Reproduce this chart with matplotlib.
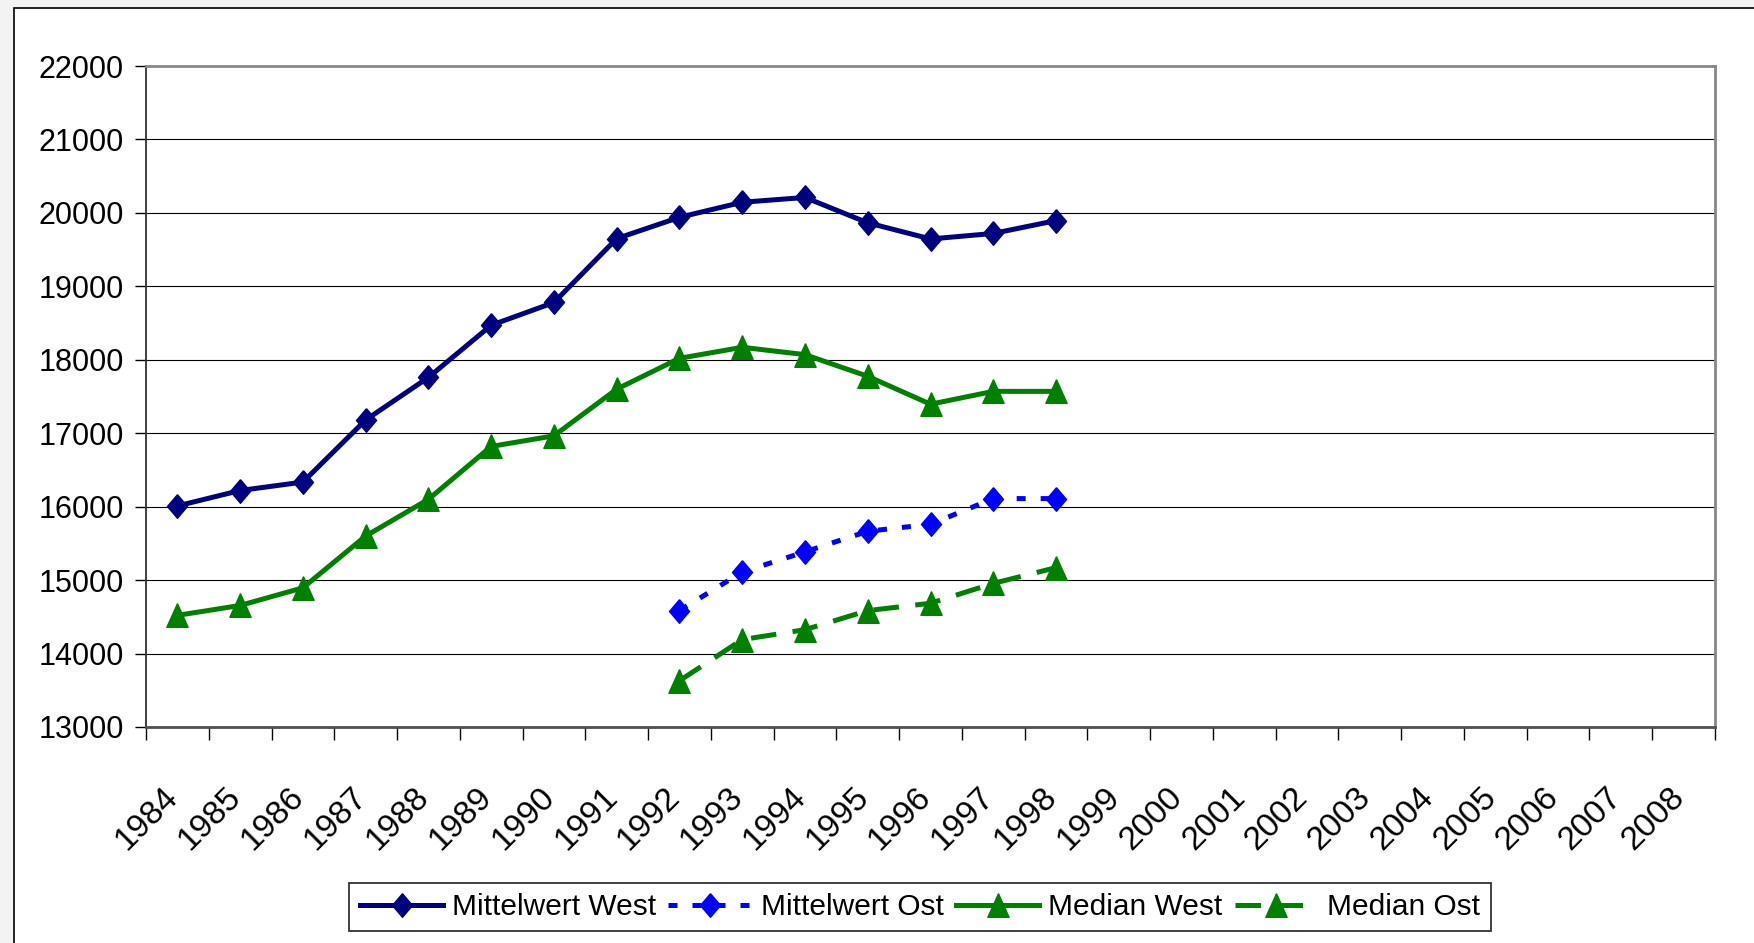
import matplotlib.pyplot as plt
import matplotlib.patches as mpatches
import matplotlib.transforms as mtransforms
import numpy as np

# Years on the category axis
years = [str(y) for y in range(1984, 2009)]

# Series values
mittel_west_years = list(range(1984, 1999))
mittel_west = [16010, 16220, 16335, 17180, 17760, 18470, 18780, 19650,
               19940, 20145, 20210, 19865, 19645, 19720, 19895]
median_west = [14520, 14655, 14895, 15600, 16100, 16820, 16965, 17600,
               18020, 18170, 18070, 17775, 17395, 17570, 17570]

ost_years = list(range(1992, 1999))
mittel_ost = [14585, 15110, 15385, 15665, 15760, 16110, 16110]
median_ost = [13630, 14190, 14325, 14585, 14685, 14955, 15170]

yticks = list(range(13000, 22001, 1000))

FONT = ['Liberation Sans', 'DejaVu Sans']

# Excel-like markers: slightly tall diamond and triangle
diamond = [(0, 1), (0.85, 0), (0, -1), (-0.85, 0), (0, 1)]
triangle = [(0, 1), (0.9, -1), (-0.9, -1), (0, 1)]

W, H = 1754, 943
fig = plt.figure(figsize=(W / 100, H / 100), dpi=100)
fig.patch.set_facecolor('#f3f3f3')

# white chart area with black border, running off the right/bottom edge
fig.patches.append(mpatches.Rectangle((14 / W, -0.05), 1.2, (H - 8) / H + 0.05,
                                      transform=fig.transFigure, facecolor='white',
                                      edgecolor='black', linewidth=1.2, zorder=-5))

left, right, top, bottom = 146, 1715, 66, 727
ax = fig.add_axes([left / W, 1 - bottom / H, (right - left) / W, (bottom - top) / H])
ax.set_facecolor('white')

xpos = {y: i for i, y in enumerate(range(1984, 2009))}
xw = [xpos[y] for y in mittel_west_years]
xo = [xpos[y] for y in ost_years]

lw = 3.6
ms = 17
ax.plot(xw, mittel_west, color='#000080', lw=lw, marker=diamond, ms=ms,
        label='Mittelwert West', zorder=4)
ax.plot(xo, mittel_ost, color='#0000ff', lw=lw, ls=(0, (1.8, 3.0)), marker=diamond, ms=ms,
        label='Mittelwert Ost', zorder=4)
ax.plot(xw, median_west, color='#008000', lw=lw, marker=triangle, ms=ms,
        label='Median West', zorder=4)
ax.plot(xo, median_ost, color='#008000', lw=lw, ls=(0, (5.1, 3.3)), marker=triangle, ms=ms,
        label='Median Ost', zorder=4)

ax.set_xlim(-0.5, len(years) - 0.5)
ax.set_ylim(13000, 22000)

# y axis
ax.set_yticks(yticks)
ax.set_yticklabels([str(v) for v in yticks], family=FONT, fontsize=22)
ax.tick_params(axis='y', direction='out', length=8, width=1, color='black', pad=8)
ax.yaxis.grid(True, color='black', lw=0.8)
ax.set_axisbelow(True)

# x axis: labels at category centres, tick marks at boundaries
ax.set_xticks(range(len(years)))
ax.set_xticklabels(years, rotation=45, ha='right', va='top', rotation_mode='anchor',
                   family=FONT, fontsize=24)
ax.tick_params(axis='x', which='major', length=0, pad=38)
shift = mtransforms.ScaledTranslation(-0.15, -0.02, fig.dpi_scale_trans)
for lab in ax.get_xticklabels():
    lab.set_transform(lab.get_transform() + shift)
ax.set_xticks(np.arange(-0.5, len(years)), minor=True)
ax.tick_params(axis='x', which='minor', direction='out', length=9, width=1, color='black')

ax.spines['left'].set_color('#303030')
ax.spines['left'].set_linewidth(1.3)
ax.spines['bottom'].set_color('#505050')
ax.spines['bottom'].set_linewidth(2)
for s in ['top', 'right']:
    ax.spines[s].set_color('#888888')
    ax.spines[s].set_linewidth(2)

leg = fig.legend(loc='center', bbox_to_anchor=(920 / W, 1 - 907 / H), ncol=4,
                 prop={'family': FONT, 'size': 21.5},
                 handlelength=2.8, handletextpad=0.3, columnspacing=0.4,
                 borderpad=0.35, fancybox=False, framealpha=1, edgecolor='#333333')
leg.get_frame().set_linewidth(1.3)

fig.savefig('out.png', dpi=100, facecolor=fig.get_facecolor())
